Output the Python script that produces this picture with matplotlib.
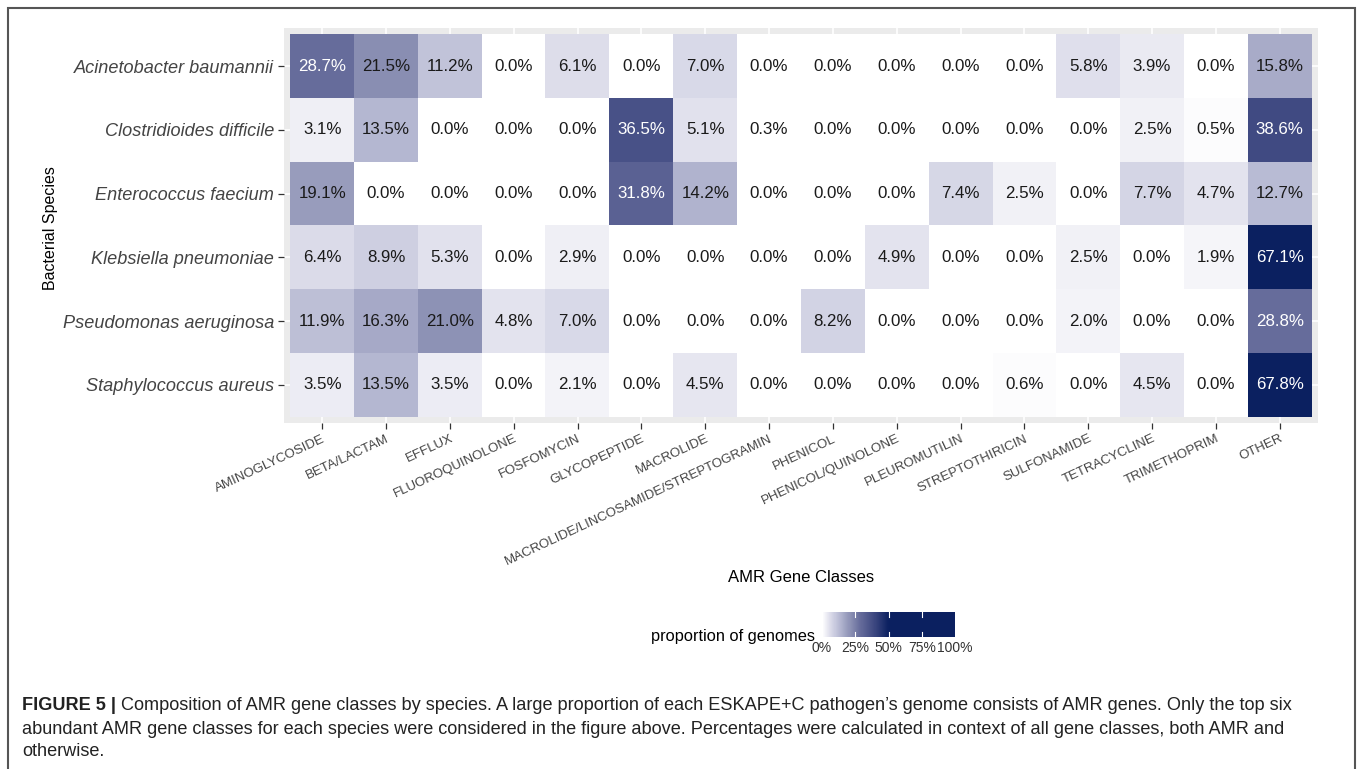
import numpy as np
import matplotlib
matplotlib.use("Agg")
import matplotlib.pyplot as plt
from matplotlib import colors
import matplotlib.patches as patches

plt.rcParams['font.family'] = ['Liberation Sans', 'DejaVu Sans']

species = ["Acinetobacter baumannii", "Clostridioides difficile", "Enterococcus faecium",
           "Klebsiella pneumoniae", "Pseudomonas aeruginosa", "Staphylococcus aureus"]
gene_classes = ["AMINOGLYCOSIDE", "BETA/LACTAM", "EFFLUX", "FLUOROQUINOLONE", "FOSFOMYCIN",
                "GLYCOPEPTIDE", "MACROLIDE", "MACROLIDE/LINCOSAMIDE/STREPTOGRAMIN", "PHENICOL",
                "PHENICOL/QUINOLONE", "PLEUROMUTILIN", "STREPTOTHIRICIN", "SULFONAMIDE",
                "TETRACYCLINE", "TRIMETHOPRIM", "OTHER"]

# percent of genome, one list per species
acinetobacter = [28.7, 21.5, 11.2, 0.0, 6.1, 0.0, 7.0, 0.0, 0.0, 0.0, 0.0, 0.0, 5.8, 3.9, 0.0, 15.8]
clostridioides = [3.1, 13.5, 0.0, 0.0, 0.0, 36.5, 5.1, 0.3, 0.0, 0.0, 0.0, 0.0, 0.0, 2.5, 0.5, 38.6]
enterococcus = [19.1, 0.0, 0.0, 0.0, 0.0, 31.8, 14.2, 0.0, 0.0, 0.0, 7.4, 2.5, 0.0, 7.7, 4.7, 12.7]
klebsiella = [6.4, 8.9, 5.3, 0.0, 2.9, 0.0, 0.0, 0.0, 0.0, 4.9, 0.0, 0.0, 2.5, 0.0, 1.9, 67.1]
pseudomonas = [11.9, 16.3, 21.0, 4.8, 7.0, 0.0, 0.0, 0.0, 8.2, 0.0, 0.0, 0.0, 2.0, 0.0, 0.0, 28.8]
staphylococcus = [3.5, 13.5, 3.5, 0.0, 2.1, 0.0, 4.5, 0.0, 0.0, 0.0, 0.0, 0.6, 0.0, 4.5, 0.0, 67.8]

cbar_ticks = [0, 0.25, 0.5, 0.75, 1.0]
cbar_labels = ["0%", "25%", "50%", "75%", "100%"]

data = np.array([acinetobacter, clostridioides, enterococcus, klebsiella, pseudomonas, staphylococcus]) / 100.0

# white -> navy, saturating around 50%
cmap = colors.LinearSegmentedColormap.from_list("amr", [
    (0.0, "#ffffff"), (0.061, "#dcdcea"), (0.112, "#c0c2d9"), (0.215, "#8a8fb3"),
    (0.287, "#666c9b"), (0.386, "#404a82"), (0.5, "#0b2060"), (1.0, "#0b2060")])
norm = colors.Normalize(0, 1)

W, H = 1358, 769
fig = plt.figure(figsize=(W / 100, H / 100), dpi=100)
ax = fig.add_axes([284 / W, 1 - 423 / H, 1034 / W, 395 / H])
ax.set_facecolor("#ebebeb")
for s in ax.spines.values():
    s.set_visible(False)

nrow, ncol = data.shape
im = ax.imshow(data, cmap=cmap, norm=norm, aspect='auto', zorder=2,
               extent=(-0.5, ncol - 0.5, nrow - 0.5, -0.5), interpolation='nearest')
ax.set_xlim(-0.6, ncol - 0.4)
ax.set_ylim(nrow - 0.4, -0.6)
ax.set_xticks(np.arange(ncol))
ax.set_yticks(np.arange(nrow))
ax.grid(color='white', linewidth=1.2, zorder=0)
ax.set_axisbelow(True)

for r in range(nrow):
    for c in range(ncol):
        v = data[r, c]
        ax.text(c, r, f"{v * 100:.1f}%", ha='center', va='center', fontsize=12.2,
                color='white' if v > 0.25 else '#1a1a1a', zorder=3)

ax.set_yticklabels(species, fontsize=13.1, style='italic', color='#444444')
ax.set_xticklabels(gene_classes, fontsize=9.5, rotation=25, ha='right', va='top',
                   rotation_mode='anchor', color='#444444')
ax.tick_params(axis='both', length=4, width=0.9, color='#333333', pad=3)
fig.text(50 / W, 1 - 228 / H, "Bacterial Species", fontsize=11.5, rotation=90,
         ha='center', va='center')
fig.text(801 / W, 1 - 578 / H, "AMR Gene Classes", fontsize=12, ha='center', va='center')

# colour bar legend
cax = fig.add_axes([822 / W, 1 - 637 / H, 133 / W, 25 / H])
cb = fig.colorbar(im, cax=cax, orientation='horizontal', ticks=cbar_ticks)
cb.outline.set_visible(False)
cax.set_xticklabels(cbar_labels, fontsize=10, color='#333333')
cax.tick_params(length=0, pad=3)
for t in cbar_ticks[1:-1]:
    cax.plot([t, t], [0, 0.2], color='white', lw=0.8)
    cax.plot([t, t], [0.8, 1.0], color='white', lw=0.8)
fig.text(815 / W, 1 - 636 / H, "proportion of genomes", fontsize=11.8, ha='right', va='center')

# frame around the figure
fig.add_artist(patches.Rectangle((8 / W, -0.02), (1355 - 8) / W, 1 - 8 / H + 0.02,
                                 transform=fig.transFigure, fill=False,
                                 edgecolor='#555555', linewidth=1.5))

# caption
renderer = fig.canvas.get_renderer()
cap_size = 13.1
x0 = 22 / W
bold = fig.text(x0, 1 - 706 / H, "FIGURE 5 |", fontsize=cap_size, fontweight='bold',
                va='center', color='#222222')
bw = bold.get_window_extent(renderer).width
fig.text(x0 + (bw + 5) / W, 1 - 706 / H,
         "Composition of AMR gene classes by species. A large proportion of each ESKAPE+C pathogen\u2019s "
         "genome consists of AMR genes. Only the top six",
         fontsize=cap_size, va='center', color='#222222')
fig.text(x0, 1 - 729 / H,
         "abundant AMR gene classes for each species were considered in the figure above. Percentages "
         "were calculated in context of all gene classes, both AMR and",
         fontsize=cap_size, va='center', color='#222222')
fig.text(x0, 1 - 751 / H, "otherwise.", fontsize=cap_size, va='center', color='#222222')

fig.savefig("out.png", dpi=100)
